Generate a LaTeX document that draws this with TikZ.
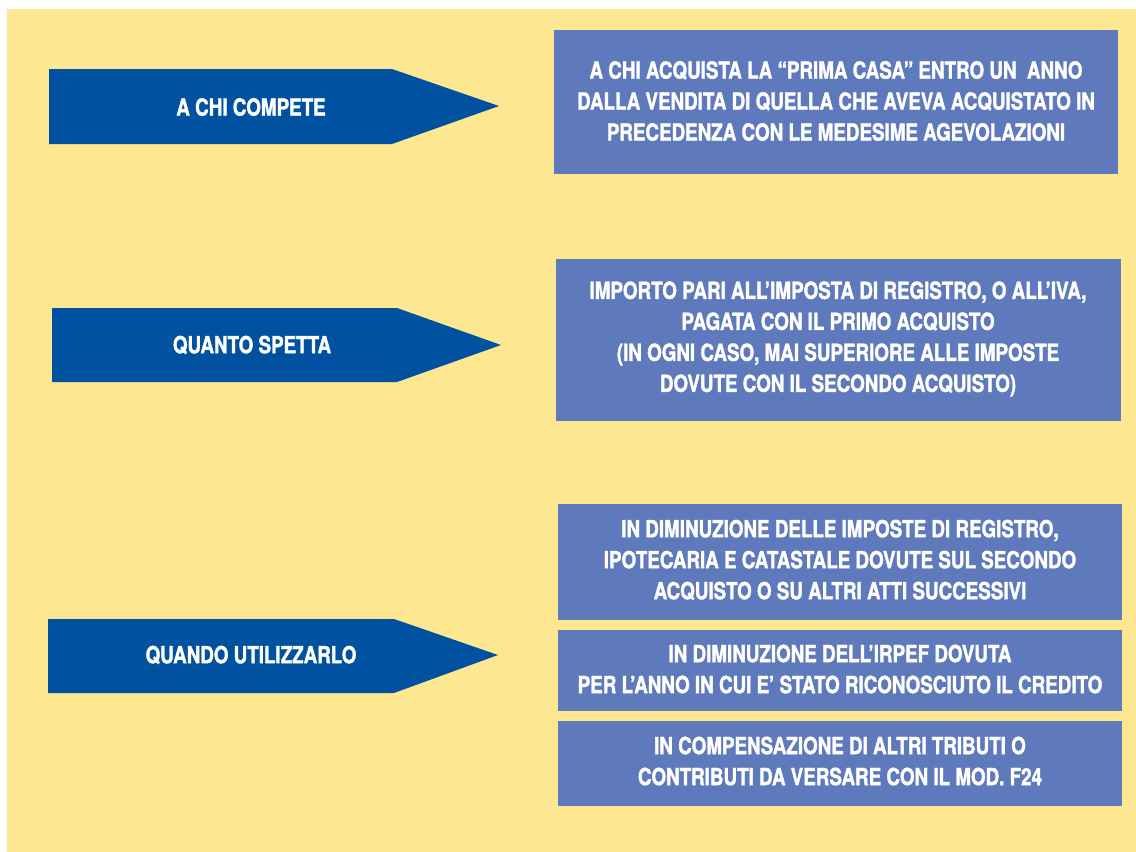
\documentclass[tikz,border=0pt]{standalone}
\usepackage{fontspec}
\newfontfamily\condfont{TeX Gyre Heros}[FakeStretch=0.8, FakeBold=1.5]
\definecolor{bgyellow}{RGB}{253,231,145}
\definecolor{darkblue}{RGB}{0,82,160}
\definecolor{boxblue}{RGB}{94,122,189}
\tikzset{
  arrowshape/.style={fill=darkblue, draw=none},
  arrowlabel/.style={text=white, font=\condfont\bfseries\fontsize{23.5}{31}\selectfont, inner sep=0pt},
  infobox/.style={fill=boxblue, draw=none, text=white, align=center,
    font=\condfont\bfseries\fontsize{23.5}{31}\selectfont, inner sep=0pt}
}
\begin{document}
\begin{tikzpicture}[x=1pt,y=-1pt]
\useasboundingbox (0,0) rectangle (1136,852);
\fill[bgyellow] (7,9) rectangle (1136,852);

% arrows
\fill[arrowshape] (49,69) -- (392,69) -- (499,106) -- (392,144) -- (49,144) -- cycle;
\node[arrowlabel] (l1) at (251,107) {A CHI COMPETE};

\fill[arrowshape] (52,308) -- (397,308) -- (501,345) -- (397,382) -- (52,382) -- cycle;
\node[arrowlabel] (l2) at (252,345) {QUANTO SPETTA};

\fill[arrowshape] (48,619) -- (394,619) -- (498,655) -- (394,693) -- (48,693) -- cycle;
\node[arrowlabel] (l3) at (251,655) {QUANDO UTILIZZARLO};

% boxes
\fill[boxblue] (554,30) rectangle (1118,174);
\node[infobox] (b1) at (836,101) {A CHI ACQUISTA LA “PRIMA CASA” ENTRO UN\ \ ANNO\\DALLA VENDITA DI QUELLA CHE AVEVA ACQUISTATO IN\\PRECEDENZA CON LE MEDESIME AGEVOLAZIONI};

\fill[boxblue] (556,259) rectangle (1121,421);
\node[infobox] (b2) at (838,339) {IMPORTO PARI ALL’IMPOSTA DI REGISTRO, O ALL’IVA,\\PAGATA CON IL PRIMO ACQUISTO\\(IN OGNI CASO, MAI SUPERIORE ALLE IMPOSTE\\DOVUTE CON IL SECONDO ACQUISTO)};

\fill[boxblue] (558,504) rectangle (1122,620);
\node[infobox] (b3) at (840,560) {IN DIMINUZIONE DELLE IMPOSTE DI REGISTRO,\\IPOTECARIA E CATASTALE DOVUTE SUL SECONDO\\ACQUISTO O SU ALTRI ATTI SUCCESSIVI};

\fill[boxblue] (558,630) rectangle (1122,711);
\node[infobox] (b4) at (840,669) {IN DIMINUZIONE DELL’IRPEF DOVUTA\\PER L’ANNO IN CUI E’ STATO RICONOSCIUTO IL CREDITO};

\fill[boxblue] (558,721) rectangle (1122,806);
\node[infobox] (b5) at (840,761) {IN COMPENSAZIONE DI ALTRI TRIBUTI O\\CONTRIBUTI DA VERSARE CON IL MOD. F24};
\end{tikzpicture}
\end{document}
